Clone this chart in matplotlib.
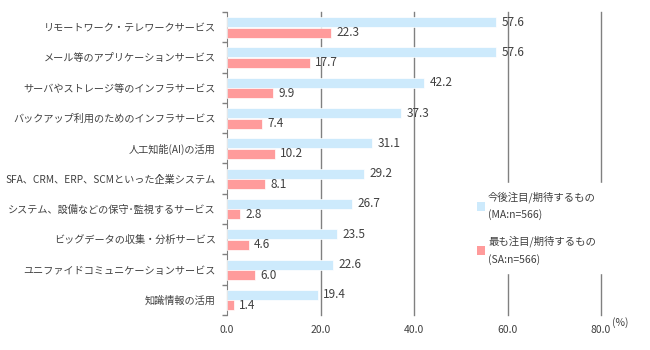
import numpy as np
import matplotlib.pyplot as plt
from matplotlib.patches import Patch

plt.rcParams['font.family'] = ['Noto Sans CJK JP', 'DejaVu Sans']

categories = [
    'リモートワーク・テレワークサービス',
    'メール等のアプリケーションサービス',
    'サーバやストレージ等のインフラサービス',
    'バックアップ利用のためのインフラサービス',
    '人工知能(AI)の活用',
    'SFA、CRM、ERP、SCMといった企業システム',
    'システム、設備などの保守･監視するサービス',
    'ビッグデータの収集・分析サービス',
    'ユニファイドコミュニケーションサービス',
    '知識情報の活用',
]
future_vals = [57.6, 57.6, 42.2, 37.3, 31.1, 29.2, 26.7, 23.5, 22.6, 19.4]
most_vals = [22.3, 17.7, 9.9, 7.4, 10.2, 8.1, 2.8, 4.6, 6.0, 1.4]
series_labels = ['今後注目/期待するもの\n(MA:n=566)', '最も注目/期待するもの\n(SA:n=566)']
xticks = [0, 20, 40, 60, 80]

blue = '#cdeafc'
red = '#ff9b9b'
txt = '#404040'

fig = plt.figure(figsize=(6.5, 3.5), dpi=100)
ax = fig.add_axes([227 / 650, 35 / 350, 374 / 650, 303 / 350])

y = np.arange(len(categories))
h = 0.33
ax.barh(y - 0.165, future_vals, height=h, color=blue, edgecolor='white', linewidth=0.5, zorder=3)
ax.barh(y + 0.18, most_vals, height=h, color=red, edgecolor='white', linewidth=0.5, zorder=3)

for i in range(len(categories)):
    ax.annotate(f'{future_vals[i]:.1f}', (future_vals[i], y[i] - 0.165), xytext=(4, 0),
                textcoords='offset points', va='center', ha='left', fontsize=8.5, color=txt, zorder=4)
    ax.annotate(f'{most_vals[i]:.1f}', (most_vals[i], y[i] + 0.18), xytext=(4, 0),
                textcoords='offset points', va='center', ha='left', fontsize=8.5, color=txt, zorder=4)

for xv in xticks[1:]:
    ax.axvline(xv, color='#808080', linewidth=1, zorder=1, clip_on=False)

ax.set_xlim(0, 80)
ax.set_ylim(len(categories) - 0.5, -0.5)
ax.set_xticks(xticks)
ax.set_xticklabels([f'{v:.1f}' for v in xticks], fontsize=7.5, color=txt)
ax.tick_params(axis='x', length=0, pad=7)

ax.set_yticks(y)
ax.set_yticklabels(categories, fontsize=7.3, color=txt)
ax.tick_params(axis='y', which='major', length=0, pad=8)
ax.set_yticks(np.arange(len(categories) + 1) - 0.5, minor=True)
ax.tick_params(axis='y', which='minor', length=3.5, color='#808080', width=1)

for s in ['top', 'right', 'bottom']:
    ax.spines[s].set_visible(False)
ax.spines['left'].set_color('#808080')

handles = [Patch(facecolor=blue), Patch(facecolor=red)]
leg = ax.legend(handles, series_labels, loc='upper left', bbox_to_anchor=(0.645, 0.435),
                frameon=True, fancybox=False, edgecolor='white', facecolor='white', framealpha=1,
                fontsize=7.5, handlelength=0.8, handleheight=0.9, handletextpad=0.3,
                labelspacing=1.5, borderaxespad=0, borderpad=0.8, labelcolor=txt)
for t in leg.get_texts():
    t.set_linespacing(1.7)

fig.text(620 / 650, 1 - 323 / 350, '(%)', fontsize=7.5, color=txt, ha='center', va='center')

fig.savefig('out.png', dpi=100)
